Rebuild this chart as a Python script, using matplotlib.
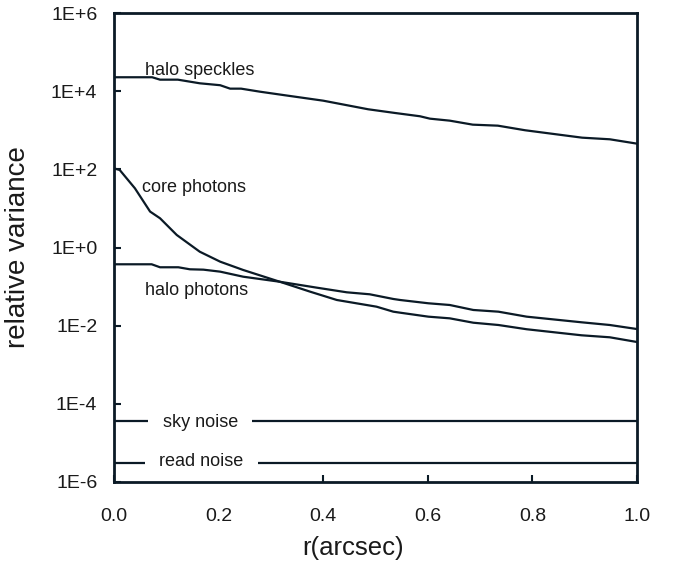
import matplotlib
matplotlib.use('Agg')
import matplotlib.pyplot as plt
from matplotlib.ticker import FixedLocator, FixedFormatter

plt.rcParams['font.family'] = ['Liberation Sans', 'DejaVu Sans']

ink = '#0b1a26'

# halo speckles
r_speck = [0.0, 0.073, 0.088, 0.122, 0.164, 0.203, 0.222, 0.243, 0.279, 0.327,
           0.400, 0.426, 0.486, 0.537, 0.585, 0.604, 0.642, 0.686, 0.734, 0.786,
           0.895, 0.948, 1.0]
v_speck = [22700, 22700, 19700, 19700, 15900, 14200, 11600, 11600, 9700, 7850,
           5710, 4900, 3440, 2770, 2280, 1980, 1760, 1390, 1310, 1000,
           646, 587, 454]

# core photons
r_core = [0.0, 0.011, 0.040, 0.069, 0.088, 0.120, 0.164, 0.203, 0.247, 0.317,
          0.375, 0.426, 0.502, 0.534, 0.547, 0.601, 0.642, 0.687, 0.735, 0.789,
          0.894, 0.948, 1.0]
v_core = [106, 96, 32.7, 8.3, 5.6, 2.09, 0.78, 0.434, 0.266, 0.133,
          0.0741, 0.0454, 0.0306, 0.0228, 0.0215, 0.0170, 0.0154, 0.0119, 0.0104, 0.0081,
          0.00567, 0.00504, 0.00382]

# halo photons
r_halo = [0.0, 0.072, 0.088, 0.123, 0.145, 0.171, 0.203, 0.247, 0.317, 0.388,
          0.445, 0.489, 0.534, 0.547, 0.601, 0.642, 0.687, 0.735, 0.789, 0.894,
          0.948, 1.0]
v_halo = [0.372, 0.372, 0.312, 0.312, 0.277, 0.271, 0.241, 0.179, 0.133, 0.0937,
          0.0714, 0.0635, 0.0482, 0.0454, 0.0374, 0.0338, 0.0252, 0.0228, 0.0170, 0.0122,
          0.0104, 0.0082]

sky_noise = 3.7e-5
read_noise = 3.0e-6

x_ticks = [0.0, 0.2, 0.4, 0.6, 0.8, 1.0]
x_labels = ['0.0', '0.2', '0.4', '0.6', '0.8', '1.0']
y_ticks = [1e-6, 1e-4, 1e-2, 1e0, 1e2, 1e4, 1e6]
y_labels = ['1E-6', '1E-4', '1E-2', '1E+0', '1E+2', '1E+4', '1E+6']

fig = plt.figure(figsize=(6.81, 5.62), dpi=100)
ax = fig.add_axes([114 / 681, 80 / 562, 523 / 681, 469 / 562])

ax.plot(r_speck, v_speck, color=ink, lw=1.6)
ax.plot(r_core, v_core, color=ink, lw=1.6)
ax.plot(r_halo, v_halo, color=ink, lw=1.6)
ax.hlines([sky_noise, read_noise], 0, 1, color=ink, lw=1.6)

ax.set_yscale('log')
ax.set_xlim(0, 1)
ax.set_ylim(1e-6, 1e6)
ax.xaxis.set_major_locator(FixedLocator(x_ticks))
ax.xaxis.set_major_formatter(FixedFormatter(x_labels))
ax.yaxis.set_major_locator(FixedLocator(y_ticks))
ax.yaxis.set_major_formatter(FixedFormatter(y_labels))
ax.yaxis.set_minor_locator(FixedLocator([]))
ax.tick_params(direction='in', length=5, width=1.5, color=ink,
               labelsize=14, labelcolor='#1a1a1a')
ax.tick_params(axis='x', pad=19)
ax.tick_params(axis='y', pad=12)
for s in ax.spines.values():
    s.set_linewidth(2)
    s.set_color(ink)

ax.set_xlabel('r(arcsec)', fontsize=18.5, color='#1a1a1a', va='top')
ax.xaxis.set_label_coords(0.457, -0.116)
ax.set_ylabel('relative variance', fontsize=20, color='#1a1a1a')
ax.yaxis.set_label_coords(-0.158, 0.5)

tkw = dict(fontsize=13, color='#1a1a1a', va='baseline')
ax.text(0.059, 2.6e4, 'halo speckles', **tkw)
ax.text(0.053, 25.9, 'core photons', **tkw)
ax.text(0.059, 0.061, 'halo photons', **tkw)
# white boxes break the noise lines, kept under the spines
box = dict(facecolor='white', edgecolor='none', boxstyle='square,pad=0.8')
ax.text(0.165, 2.55e-5, 'sky noise', ha='center', bbox=box, zorder=2.2, **tkw)
ax.text(0.1665, 2.6e-6, 'read noise', ha='center', bbox=box, zorder=2.2, **tkw)

fig.savefig('out.png', dpi=100)
